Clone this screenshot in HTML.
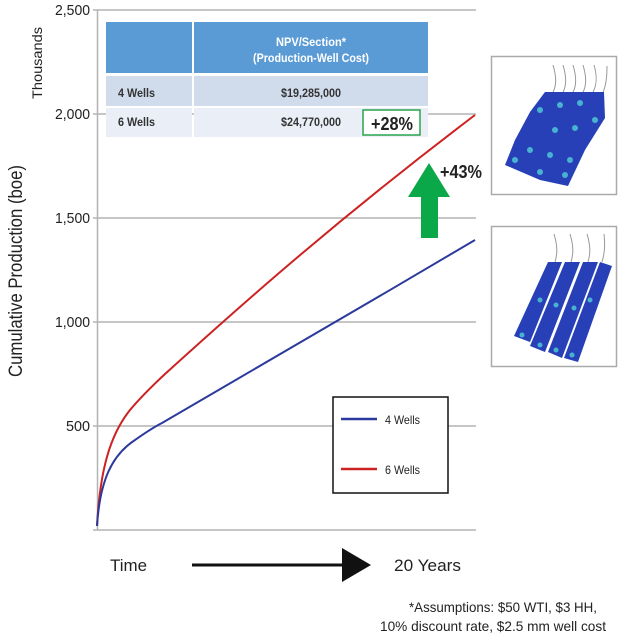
<!DOCTYPE html>
<html><head><meta charset="utf-8"><style>
body{margin:0;background:#fff;}
svg{display:block;font-family:"Liberation Sans",sans-serif;}
</style></head><body>
<svg width="620" height="639" viewBox="0 0 620 639" xmlns="http://www.w3.org/2000/svg">
<g stroke="#b3b3b3" stroke-width="1.5" fill="none">
<line x1="93" y1="10" x2="476" y2="10"/>
<line x1="93" y1="114" x2="476" y2="114"/>
<line x1="93" y1="218" x2="476" y2="218"/>
<line x1="93" y1="322" x2="476" y2="322"/>
<line x1="93" y1="426" x2="476" y2="426"/>
<line x1="93" y1="530" x2="476" y2="530"/>
<line x1="97.5" y1="10" x2="97.5" y2="530"/>
</g>
<g font-size="15" fill="#222" text-anchor="end">
<text x="90" y="15" textLength="35" lengthAdjust="spacingAndGlyphs">2,500</text>
<text x="90" y="119" textLength="35" lengthAdjust="spacingAndGlyphs">2,000</text>
<text x="90" y="223" textLength="35" lengthAdjust="spacingAndGlyphs">1,500</text>
<text x="90" y="327" textLength="35" lengthAdjust="spacingAndGlyphs">1,000</text>
<text x="90" y="431" textLength="24" lengthAdjust="spacingAndGlyphs">500</text>
</g>
<text transform="translate(42,63) rotate(-90)" font-size="14" fill="#222" text-anchor="middle" textLength="72" lengthAdjust="spacingAndGlyphs">Thousands</text>
<text transform="translate(22,271) rotate(-90)" font-size="19" fill="#222" text-anchor="middle" textLength="212" lengthAdjust="spacingAndGlyphs">Cumulative Production (boe)</text>

<rect x="106" y="22" width="86" height="51" fill="#5b9bd5"/>
<rect x="194" y="22" width="234" height="51" fill="#5b9bd5"/>
<text x="311" y="46" font-size="12" fill="#fff" text-anchor="middle" font-weight="bold" textLength="70" lengthAdjust="spacingAndGlyphs">NPV/Section*</text>
<text x="311" y="62" font-size="12" fill="#fff" text-anchor="middle" font-weight="bold" textLength="116" lengthAdjust="spacingAndGlyphs">(Production-Well Cost)</text>
<rect x="106" y="76" width="86" height="30" fill="#d0dcec"/>
<rect x="194" y="76" width="234" height="30" fill="#d0dcec"/>
<rect x="106" y="108" width="86" height="29" fill="#e9eef7"/>
<rect x="194" y="108" width="234" height="29" fill="#e9eef7"/>
<g font-size="12" font-weight="bold" fill="#333">
<text x="118" y="97" textLength="37" lengthAdjust="spacingAndGlyphs">4 Wells</text>
<text x="118" y="126" textLength="37" lengthAdjust="spacingAndGlyphs">6 Wells</text>
<text x="281" y="97" textLength="60" lengthAdjust="spacingAndGlyphs">$19,285,000</text>
<text x="281" y="126" textLength="60" lengthAdjust="spacingAndGlyphs">$24,770,000</text>
</g>
<rect x="363" y="110" width="57" height="25" fill="#fff" stroke="#2aa34a" stroke-width="1.5"/>
<text x="371" y="130" font-size="18" font-weight="bold" fill="#222" textLength="42" lengthAdjust="spacingAndGlyphs">+28%</text>

<path d="M97,526 C100,470 110,435 130,410 C140,398 150,388 165,374 C230,315 330,225 475,115" fill="none" stroke="#cc2222" stroke-width="2"/>
<path d="M97,526 C100,480 112,455 135,440 C145,433 152,428 162,423 C260,366 370,302 475,240" fill="none" stroke="#2b3a9c" stroke-width="2"/>

<polygon points="429,163 408,197 421,197 421,238 438,238 438,197 450,197" fill="#0ba84a"/>
<text x="440" y="178" font-size="18" font-weight="bold" fill="#222" textLength="42" lengthAdjust="spacingAndGlyphs">+43%</text>

<rect x="333" y="397" width="115" height="96" fill="#fff" stroke="#111" stroke-width="1.5"/>
<line x1="341" y1="419" x2="377" y2="419" stroke="#2b3a9c" stroke-width="2.5"/>
<line x1="341" y1="469" x2="377" y2="469" stroke="#cc2222" stroke-width="2.5"/>
<text x="385" y="424" font-size="12" fill="#222" textLength="35" lengthAdjust="spacingAndGlyphs">4 Wells</text>
<text x="385" y="474" font-size="12" fill="#222" textLength="35" lengthAdjust="spacingAndGlyphs">6 Wells</text>

<text x="110" y="571" font-size="17" fill="#222" textLength="37" lengthAdjust="spacingAndGlyphs">Time</text>
<line x1="192" y1="565" x2="345" y2="565" stroke="#111" stroke-width="3"/>
<polygon points="342,548 371,565 342,582" fill="#111"/>
<text x="394" y="571" font-size="17" fill="#222" textLength="67" lengthAdjust="spacingAndGlyphs">20 Years</text>

<text x="409" y="612" font-size="14" fill="#222" textLength="188" lengthAdjust="spacingAndGlyphs">*Assumptions: $50 WTI, $3 HH,</text>
<text x="380" y="631" font-size="14" fill="#222" textLength="226" lengthAdjust="spacingAndGlyphs">10% discount rate, $2.5 mm well cost</text>

<rect x="491.5" y="56.5" width="125" height="138" fill="#fff" stroke="#aaa" stroke-width="1.5"/>
<rect x="491.5" y="226.5" width="125" height="140" fill="#fff" stroke="#aaa" stroke-width="1.5"/>
<g stroke="#999" fill="none" stroke-width="1">
<path d="M553,65 C556,75 557,85 553,92"/><path d="M563,65 C566,75 567,85 563,92"/><path d="M573,65 C576,75 577,85 573,92"/><path d="M583,65 C586,75 587,85 583,92"/><path d="M594,65 C597,75 597,85 593,92"/><path d="M607,66 C607,76 606,86 603,92"/>
<path d="M554,234 C557,244 558,252 555,262"/><path d="M570,234 C573,244 574,252 571,262"/><path d="M587,234 C590,244 591,252 588,262"/><path d="M604,234 C605,244 605,252 602,262"/>
</g>
<polygon points="545,92 604,92 605,118 585,150 568,186 540,180 505,165 515,140 530,112" fill="#2740b8"/>
<g fill="#4fd0d8" opacity="0.8">
<circle cx="540" cy="110" r="3"/><circle cx="560" cy="105" r="3"/><circle cx="580" cy="103" r="3"/><circle cx="555" cy="130" r="3"/><circle cx="575" cy="128" r="3"/><circle cx="595" cy="120" r="3"/><circle cx="530" cy="150" r="3"/><circle cx="550" cy="155" r="3"/><circle cx="570" cy="160" r="3"/><circle cx="515" cy="160" r="3"/><circle cx="540" cy="172" r="3"/><circle cx="565" cy="175" r="3"/>
</g>
<g fill="#2740b8">
<polygon points="548,262 562,262 530,342 514,336"/>
<polygon points="565,262 580,262 545,352 530,346"/>
<polygon points="583,262 598,262 562,358 548,352"/>
<polygon points="600,262 612,266 578,362 564,358"/>
</g>
<g fill="#4fd0d8" opacity="0.8">
<circle cx="540" cy="300" r="2.5"/><circle cx="556" cy="305" r="2.5"/><circle cx="574" cy="308" r="2.5"/><circle cx="590" cy="300" r="2.5"/><circle cx="522" cy="335" r="2.5"/><circle cx="540" cy="345" r="2.5"/><circle cx="556" cy="350" r="2.5"/><circle cx="572" cy="355" r="2.5"/>
</g>
</svg>
</body></html>
